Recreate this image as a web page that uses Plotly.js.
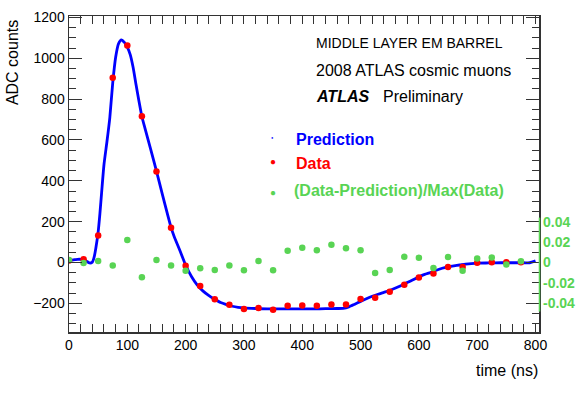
<!DOCTYPE html>
<html>
<head>
<meta charset="utf-8">
<script src="https://cdn.plot.ly/plotly-3.0.1.min.js"></script>
<style>html,body{margin:0;padding:0;background:#fff;}</style>
</head>
<body>
<div id="chart" style="width:581px;height:397px;"></div>
<script>
// prediction shape
var predTime = [0, 5, 10, 15, 20, 25, 30, 35, 40, 43, 46, 50, 53, 56, 60, 65, 70, 75, 80, 85, 90, 95, 100,
  105, 110, 115, 120, 125, 130, 140, 150, 160, 170, 175, 180, 190, 200, 210, 220, 230, 240, 250, 260,
  270, 280, 290, 300, 320, 340, 360, 380, 400, 420, 440, 460, 470, 480, 490, 500, 510, 520, 530, 540,
  550, 560, 570, 580, 590, 600, 610, 620, 630, 640, 650, 660, 670, 680, 690, 700, 720, 740, 760, 780,
  790, 800];
var predAdc = [10, 12, 14, 16, 16, 14, 7, -2, 2, 25, 70, 150, 240, 345, 480, 590, 710, 880, 1005, 1072,
  1090, 1078, 1055, 1018, 955, 870, 790, 715, 660, 555, 448, 335, 225, 172, 130, 60, -12, -68, -110,
  -140, -162, -180, -196, -206, -214, -219, -222, -225, -227, -227, -227, -227, -227, -226, -225, -224,
  -217, -204, -190, -177, -165, -155, -146, -137, -125, -112, -98, -84, -70, -58, -49, -38, -28, -21,
  -16, -12, -8, -5, -3, -2, -1, -1, -1, -1, 8];

// measured samples every 25 ns
var dataTime = [0, 25, 50, 75, 100, 125, 150, 175, 200, 225, 250, 275, 300, 325, 350, 375, 400, 425,
  450, 475, 500, 525, 550, 575, 600, 625, 650, 675, 700, 725, 750, 775];
var dataAdc = [10, 16, 133, 905, 1062, 716, 446, 170, -16, -115, -180, -206, -228, -223, -231, -212,
  -210, -212, -205, -205, -179, -172, -143, -109, -73, -53, -22, -22, -1, 2, 2, 2];
var residual = [0.0024, -0.0005, 0.0015, -0.003, 0.022, -0.0145, 0.0025, -0.0028, -0.008, -0.0057,
  -0.0073, -0.003, -0.0076, 0.0015, -0.0076, 0.0116, 0.0145, 0.012, 0.0174, 0.014, 0.012, -0.0103,
  -0.0073, 0.0057, 0.0047, -0.0054, 0.0054, -0.008, 0.004, 0.005, -0.0018, 0.0012];

var resTicks = [-0.04, -0.02, 0, 0.02, 0.04];
var resTickText = ['-0.04', '-0.02', '0', '0.02', '0.04'];

var font = 'Liberation Sans, Arial, Helvetica, sans-serif';
var green = '#59d454';
var axisColor = '#333';

// plot area in pixels, used to place the text boxes
var L = 68.5, R = 539.5, T = 16, B = 331.7;
function px(x) { return (x - L) / (R - L); }
function py(y) { return (B - y) / (B - T); }

var traces = [
  {
    x: predTime, y: predAdc, type: 'scatter', mode: 'lines',
    line: { color: '#0000ff', width: 2.8, shape: 'spline', smoothing: 0.6 },
    showlegend: false, hoverinfo: 'skip'
  },
  {
    x: dataTime, y: dataAdc, type: 'scatter', mode: 'markers',
    marker: { color: '#ff0000', size: 6.5 },
    showlegend: false
  },
  {
    x: dataTime, y: residual, type: 'scatter', mode: 'markers', yaxis: 'y2',
    marker: { color: green, size: 6.5 },
    showlegend: false
  }
];

var annotations = [
  { text: 'ADC counts', x: px(12), y: py(18), textangle: -90, xanchor: 'center', yanchor: 'top', font: { size: 16 } },
  { text: 'time (ns)', x: px(541), y: py(370), xanchor: 'right', yanchor: 'middle', font: { size: 16 } },
  { text: 'MIDDLE LAYER EM BARREL', x: px(314), y: py(43), xanchor: 'left', yanchor: 'middle', font: { size: 14 } },
  { text: '2008 ATLAS cosmic muons', x: px(314), y: py(70), xanchor: 'left', yanchor: 'middle', font: { size: 16 } },
  { text: '<b><i>ATLAS</i></b>', x: px(314), y: py(96), xanchor: 'left', yanchor: 'middle', font: { size: 16 } },
  { text: 'Preliminary', x: px(381), y: py(96), xanchor: 'left', yanchor: 'middle', font: { size: 16 } },
  { text: '<b>Prediction</b>', x: px(294), y: py(139), xanchor: 'left', yanchor: 'middle', font: { size: 16, color: '#0000ff' } },
  { text: '<b>Data</b>', x: px(294), y: py(163), xanchor: 'left', yanchor: 'middle', font: { size: 16, color: '#ff0000' } },
  { text: '<b>(Data-Prediction)/Max(Data)</b>', x: px(292), y: py(190), xanchor: 'left', yanchor: 'middle', font: { size: 16, color: green } },
  { text: '\u25CF', x: px(272.5), y: py(137), xanchor: 'center', yanchor: 'middle', font: { size: 4, color: '#0000ff' } },
  { text: '\u25CF', x: px(272.5), y: py(161), xanchor: 'center', yanchor: 'middle', font: { size: 10, color: '#ff0000' } },
  { text: '\u25CF', x: px(272.5), y: py(192), xanchor: 'center', yanchor: 'middle', font: { size: 10, color: green } }
];
annotations.forEach(function (a) {
  a.xref = 'paper'; a.yref = 'paper'; a.showarrow = false;
  a.font.family = font;
  if (!a.font.color) a.font.color = '#000';
});

var layout = {
  width: 581,
  height: 397,
  margin: { l: L, r: 581 - R, t: T, b: 397 - B, pad: 0 },
  paper_bgcolor: '#fff',
  plot_bgcolor: '#fff',
  font: { family: font, color: '#000', size: 14 },
  showlegend: false,
  xaxis: {
    range: [0, 806],
    tick0: 0, dtick: 100,
    ticks: 'inside', ticklen: 8, tickwidth: 1, tickcolor: axisColor,
    minor: { dtick: 20, ticks: 'inside', ticklen: 4, tickwidth: 1, tickcolor: axisColor },
    showline: true, linecolor: axisColor, linewidth: 1.5, mirror: 'allticks',
    showgrid: false, zeroline: false,
    tickfont: { size: 14 }
  },
  yaxis: {
    range: [-340, 1207],
    tick0: 0, dtick: 200,
    ticks: 'inside', ticklen: 13, tickwidth: 1, tickcolor: axisColor,
    minor: { dtick: 50, ticks: 'inside', ticklen: 7, tickwidth: 1, tickcolor: axisColor },
    showline: true, linecolor: axisColor, linewidth: 1.5, mirror: 'allticks',
    showgrid: false, zeroline: false,
    tickfont: { size: 14 }
  },
  yaxis2: {
    overlaying: 'y', side: 'right',
    range: [-340 / 5000, 1207 / 5000],
    tickmode: 'array', tickvals: resTicks, ticktext: resTickText,
    ticks: '', showline: false, showgrid: false, zeroline: false,
    ticklabelstandoff: 3,
    tickfont: { size: 14, color: green, weight: 'bold' }
  },
  shapes: [
    { type: 'line', xref: 'paper', yref: 'y2', x0: 1.001, x1: 1.001, y0: -0.048, y1: 0.044,
      line: { color: green, width: 1.5 } }
  ],
  annotations: annotations
};

Plotly.newPlot('chart', traces, layout, { staticPlot: true, displayModeBar: false });
</script>
</body>
</html>
